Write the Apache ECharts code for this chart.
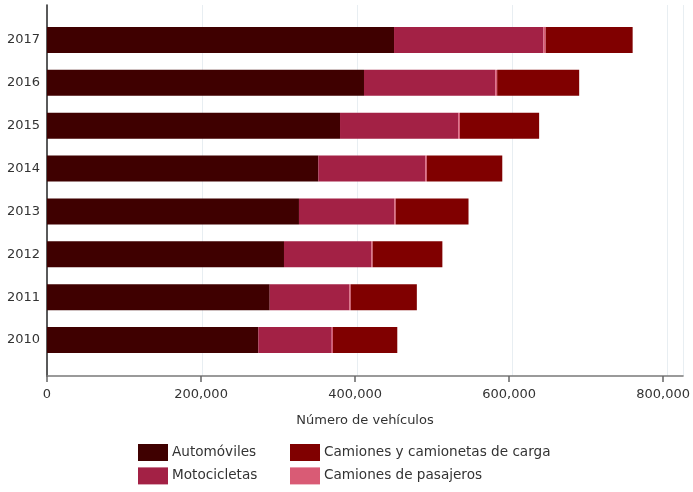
<!DOCTYPE html>
<html>
<head>
<meta charset="utf-8">
<script src="https://cdn.jsdelivr.net/npm/echarts@6/dist/echarts.min.js"></script>
<style>
  html, body { margin: 0; padding: 0; background: #fff; }
  #chart { width: 693px; height: 492px; }
</style>
</head>
<body>
<div id="chart"></div>
<script>
const years = ['2010', '2011', '2012', '2013', '2014', '2015', '2016', '2017'];
const automoviles = [272300, 287000, 305400, 324700, 349600, 377600, 408500, 447200];
const motocicletas = [94600, 102600, 112500, 122800, 137900, 152400, 169200, 192400];
const camionesPasajeros = [1600, 1800, 1800, 1900, 2000, 2200, 2400, 3000];
const camionesCarga = [82900, 85200, 89800, 93800, 97200, 102000, 105700, 112100];
const xTicks = [0, 200000, 400000, 600000, 800000];

const FONT = 'DejaVu Sans';
const chart = echarts.init(document.getElementById('chart'), null, { renderer: 'canvas' });

const fmt = v => v.toLocaleString('en-US');

chart.setOption({
  animation: false,
  textStyle: { fontFamily: FONT },
  grid: [
    { left: 47, right: 10, top: 5, bottom: 116 },
    { left: 47, width: 620.8, top: 5, bottom: 116 },
    { left: 47, width: 620.8, top: 18.5, height: 343 }
  ],
  xAxis: [
    {
      gridIndex: 0, type: 'value', min: 0, max: 820000, interval: 200000,
      axisLine: { show: true, lineStyle: { color: '#7a7a7a', width: 1.6 } },
      axisTick: { show: false },
      axisLabel: { show: false },
      splitLine: { show: true, lineStyle: { color: '#e8eef2', width: 1 } },
      name: 'Número de vehículos', nameLocation: 'middle', nameGap: 38,
      nameTextStyle: { color: '#333', fontSize: 13, fontFamily: FONT }
    },
    {
      gridIndex: 1, type: 'value', min: xTicks[0], max: xTicks[xTicks.length - 1], interval: 200000,
      axisLine: { show: false },
      axisTick: { show: true, length: 6, lineStyle: { color: '#666', width: 1.5 } },
      axisLabel: { show: true, color: '#333', fontSize: 13, margin: 12, fontFamily: FONT, formatter: fmt },
      splitLine: { show: false }
    },
    {
      gridIndex: 2, type: 'value', min: 0, max: 800000, show: false
    }
  ],
  yAxis: [
    {
      gridIndex: 0, type: 'value', min: 0, max: 1,
      axisLine: { show: true, lineStyle: { color: '#333', width: 1.6 } },
      axisTick: { show: false }, axisLabel: { show: false }, splitLine: { show: false }
    },
    { gridIndex: 1, type: 'value', show: false, min: 0, max: 1 },
    {
      gridIndex: 2, type: 'category', data: years,
      axisLine: { show: false }, axisTick: { show: false },
      axisLabel: { color: '#333', fontSize: 13, margin: 7, fontFamily: FONT },
      splitLine: { show: false }
    }
  ],
  legend: [
    {
      left: 138, top: 444, height: 48, padding: 0, orient: 'vertical', itemWidth: 30, itemHeight: 17, itemGap: 6.4,
      icon: 'rect', textStyle: { color: '#333', fontSize: 13.6, fontFamily: FONT, padding: [0, 0, 0, -1] },
      data: ['Automóviles', 'Motocicletas']
    },
    {
      left: 290, top: 444, height: 48, padding: 0, orient: 'vertical', itemWidth: 30, itemHeight: 17, itemGap: 6.4,
      icon: 'rect', textStyle: { color: '#333', fontSize: 13.6, fontFamily: FONT, padding: [0, 0, 0, -1] },
      data: ['Camiones y camionetas de carga', 'Camiones de pasajeros']
    }
  ],
  series: [
    { name: 'Automóviles', type: 'bar', stack: 'v', xAxisIndex: 2, yAxisIndex: 2, barWidth: 26,
      itemStyle: { color: '#3f0000' }, data: automoviles },
    { name: 'Motocicletas', type: 'bar', stack: 'v', xAxisIndex: 2, yAxisIndex: 2, barWidth: 26,
      itemStyle: { color: '#a32145' }, data: motocicletas },
    { name: 'Camiones de pasajeros', type: 'bar', stack: 'v', xAxisIndex: 2, yAxisIndex: 2, barWidth: 26,
      itemStyle: { color: '#d95b75' }, data: camionesPasajeros },
    { name: 'Camiones y camionetas de carga', type: 'bar', stack: 'v', xAxisIndex: 2, yAxisIndex: 2, barWidth: 26,
      itemStyle: { color: '#800000' }, data: camionesCarga }
  ]
});
</script>
</body>
</html>
